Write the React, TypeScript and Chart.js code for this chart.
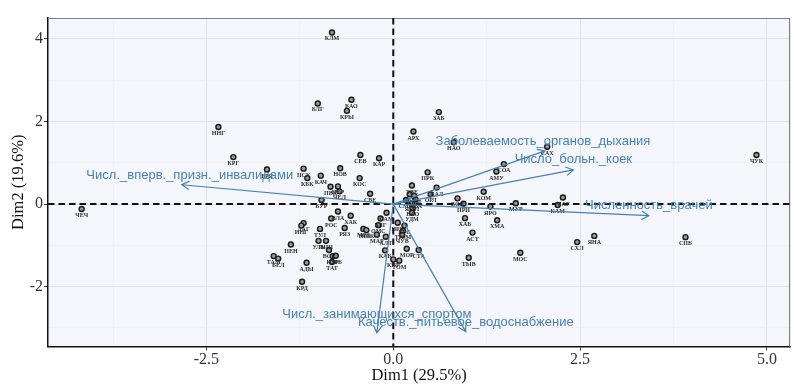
import { useEffect, useRef } from "react";
import { Chart, registerables } from "chart.js";

Chart.register(...registerables);

// ---------- data ----------
const regionCodes = [
  "КЛМ", "БЛГ", "БАО", "КРЫ", "ННГ", "АРХ", "КРГ", "СЕВ", "КАР", "ЗАБ",
  "НАО", "БРЯ", "ПСК", "КБК", "КАЧ", "НОВ", "КОС", "ПВК", "ПЕР", "ЧЕЛ",
  "БУР", "СВЕ", "ВЛА", "РОС", "ХАК", "РЯЗ", "ДАГ", "ИНГ", "ТУЛ", "УЛЬ",
  "ЛИП", "ПЕН", "ВОР", "КУР", "ОРБ", "ТАТ", "АДЫ", "ТАМ", "БЕЛ", "КРД",
  "МРД", "НИЖ", "ОМС", "МАР", "САМ", "ВЛГ", "АЛТ", "КАБ", "КИР", "ТОМ",
  "МОР", "СТА", "ИРК", "КРС", "ТЮМ", "ЧУВ", "ПРК", "ТВЕ", "КАЛ", "ОРЛ",
  "ЛЕН", "КЕМ", "СМО", "ИВА", "ЯМЛ", "ЕАО", "УДМ", "СОА", "АМУ", "КОМ",
  "ВОЛ", "ПРИ", "ЯРО", "МУР", "ХАБ", "ХМА", "АСТ", "ТЫВ", "МОС", "МАГ",
  "КАМ", "САХ", "СХЛ", "ЯНА", "СПБ", "ЧУК", "ЧЕЧ",
];

const dim1Scores = [
  -0.82, -1.01, -0.56, -0.62, -2.34, 0.27, -2.14, -0.44, -0.19, 0.61,
  0.81, -1.69, -1.20, -1.15, -0.97, -0.71, -0.45, -0.84, -0.74, -0.72,
  -0.96, -0.31, -0.74, -0.83, -0.57, -0.65, -1.20, -1.23, -0.98, -1.00,
  -0.90, -1.37, -0.86, -0.81, -0.77, -0.82, -1.16, -1.60, -1.54, -1.22,
  -0.40, -0.36, -0.20, -0.22, -0.09, -0.17, -0.10, -0.11, 0.00, 0.08,
  0.18, 0.34, 0.06, 0.15, 0.13, 0.12, 0.46, 0.25, 0.58, 0.50,
  0.22, 0.28, 0.17, 0.30, 0.25, 0.26, 0.25, 1.48, 1.38, 1.21,
  0.86, 0.94, 1.30, 1.64, 0.96, 1.39, 1.06, 1.01, 1.70, 2.27,
  2.20, 2.06, 2.46, 2.69, 3.91, 4.86, -4.17,
];

const dim2Scores = [
  4.16, 2.44, 2.53, 2.26, 1.87, 1.76, 1.14, 1.19, 1.11, 2.23,
  1.50, 0.84, 0.86, 0.63, 0.69, 0.87, 0.63, 0.42, 0.43, 0.31,
  0.10, 0.25, -0.18, -0.35, -0.28, -0.58, -0.46, -0.52, -0.60, -0.89,
  -0.89, -0.98, -1.11, -1.26, -1.25, -1.40, -1.42, -1.26, -1.32, -1.88,
  -0.60, -0.63, -0.51, -0.74, -0.21, -0.35, -0.79, -1.12, -1.34, -1.37,
  -1.08, -1.11, -0.45, -0.52, -0.65, -0.75, 0.77, 0.45, 0.40, 0.24,
  0.24, 0.20, 0.10, 0.11, 0.02, -0.10, -0.21, 0.97, 0.79, 0.30,
  0.14, 0.01, -0.06, 0.02, -0.34, -0.39, -0.69, -1.30, -1.18, 0.16,
  -0.02, 1.39, -0.92, -0.77, -0.80, 1.19, -0.12,
];

const variableNames = [
  "Числ._вперв._призн._инвалидами",
  "Заболеваемость_органов_дыхания",
  "Число_больн._коек",
  "Численность_врачей",
  "Числ._занимающихся_спортом",
  "Качеств._питьевое_водоснабжение",
];
const variableDim1 = [-2.83, 2.03, 2.41, 3.42, -0.22, 0.97];
const variableDim2 = [0.47, 1.29, 0.83, -0.28, -3.12, -3.09];

const xTickValues = [-2.5, 0, 2.5, 5];
const xTickLabels = ["-2.5", "0.0", "2.5", "5.0"];
const xMinorValues = [-3.75, -1.25, 1.25, 3.75];
const yTickValues = [-2, 0, 2, 4];
const yTickLabels = ["-2", "0", "2", "4"];
const yMinorValues = [-3, -1, 1, 3];

const xTitle = "Dim1 (29.5%)";
const yTitle = "Dim2 (19.6%)";

// ---------- styling ----------
const STEEL = "#4682b4";
const labelNudges: [number, number][] = [
  [8, -9.5],
  [-2, -9],
  [0, -10],
  [0, -10.5],
  [0, -18.5],
  [0, -9.5],
];

const biplotPlugin = {
  id: "biplot",
  beforeDraw(chart: any) {
    const { ctx, chartArea: a } = chart;
    ctx.save();
    ctx.fillStyle = "#f5f6fb";
    ctx.fillRect(a.left, a.top, a.right - a.left, a.bottom - a.top);
    ctx.restore();
  },
  beforeDatasetsDraw(chart: any) {
    const { ctx, chartArea: a, scales } = chart;
    const x0 = scales.x.getPixelForValue(0);
    const y0 = scales.y.getPixelForValue(0);
    ctx.save();
    ctx.strokeStyle = "#808080";
    ctx.lineWidth = 1.2;
    ctx.beginPath();
    ctx.moveTo(a.left, a.top + 0.5);
    ctx.lineTo(a.right - 0.5, a.top + 0.5);
    ctx.lineTo(a.right - 0.5, a.bottom);
    ctx.stroke();
    ctx.setLineDash([6.5, 4]);
    ctx.strokeStyle = "#111";
    ctx.lineWidth = 2;
    ctx.beginPath();
    ctx.moveTo(a.left, y0);
    ctx.lineTo(a.right, y0);
    ctx.moveTo(x0, a.top);
    ctx.lineTo(x0, a.bottom);
    ctx.stroke();
    ctx.restore();
  },
  afterDatasetsDraw(chart: any) {
    const { ctx, scales } = chart;
    const meta = chart.getDatasetMeta(0);
    ctx.save();
    ctx.font = 'bold 6px "Liberation Serif", "DejaVu Serif", serif';
    ctx.fillStyle = "#2a2a2a";
    ctx.textAlign = "center";
    ctx.textBaseline = "middle";
    meta.data.forEach((pt: any, i: number) => {
      ctx.fillText(regionCodes[i], pt.x, pt.y + 6.5);
    });

    const ox = scales.x.getPixelForValue(0);
    const oy = scales.y.getPixelForValue(0);
    ctx.strokeStyle = STEEL;
    ctx.fillStyle = STEEL;
    ctx.lineWidth = 1.2;
    ctx.lineCap = "round";
    ctx.font = '13px "Liberation Sans", Arial, sans-serif';
    variableNames.forEach((name, i) => {
      const tx = scales.x.getPixelForValue(variableDim1[i]);
      const ty = scales.y.getPixelForValue(variableDim2[i]);
      const ang = Math.atan2(ty - oy, tx - ox);
      const len = 8;
      const spread = Math.PI / 6;
      ctx.beginPath();
      ctx.moveTo(ox, oy);
      ctx.lineTo(tx, ty);
      ctx.moveTo(tx - len * Math.cos(ang - spread), ty - len * Math.sin(ang - spread));
      ctx.lineTo(tx, ty);
      ctx.lineTo(tx - len * Math.cos(ang + spread), ty - len * Math.sin(ang + spread));
      ctx.stroke();
      const [dx, dy] = labelNudges[i];
      ctx.fillText(name, tx + dx, ty + dy);
    });
    ctx.restore();
  },
};

const serif = '"Liberation Serif", "Times New Roman", serif';

function makeScale(
  minor: number[],
  major: number[],
  labels: string[],
  min: number,
  max: number,
  title: string,
  isX: boolean
) {
  const isMajor = (v: number) => major.some((m) => Math.abs(m - v) < 1e-9);
  return {
    type: "linear",
    min,
    max,
    afterBuildTicks: (scale: any) => {
      scale.ticks = [...minor, ...major]
        .sort((a, b) => a - b)
        .map((v) => ({ value: v }));
    },
    afterFit: (scale: any) => {
      if (isX) scale.height = 37.5;
      else scale.width = 48;
      scale.paddingLeft = 0;
      scale.paddingRight = 0;
      scale.paddingTop = 0;
      scale.paddingBottom = 0;
    },
    ticks: {
      autoSkip: false,
      maxRotation: 0,
      minRotation: 0,
      padding: 1,
      color: "#333",
      font: { family: serif, size: 16, lineHeight: 1 },
      callback: (value: number) => {
        const i = major.findIndex((m) => Math.abs(m - value) < 1e-9);
        return i >= 0 ? labels[i] : "";
      },
    },
    grid: {
      drawTicks: true,
      tickLength: 4,
      tickWidth: 1,
      color: (c: any) => (c.tick && isMajor(c.tick.value) ? "#e2e3e8" : "#eceef2"),
      lineWidth: (c: any) => (c.tick && isMajor(c.tick.value) ? 1.1 : 0.6),
      tickColor: (c: any) =>
        c.tick && isMajor(c.tick.value) ? "#333" : "rgba(0,0,0,0)",
    },
    border: { display: true, color: "#111", width: 1.5 },
    title: {
      display: true,
      text: title,
      color: "#111",
      font: { family: serif, size: 16.5, lineHeight: 1 },
      padding: isX ? { top: 0, bottom: 0 } : { top: 10, bottom: 0 },
    },
  };
}

export default function App() {
  const canvasRef = useRef<HTMLCanvasElement | null>(null);

  useEffect(() => {
    const canvas = canvasRef.current;
    if (!canvas) return;
    const points = dim1Scores.map((x, i) => ({ x, y: dim2Scores[i] }));
    const chart = new Chart(canvas, {
      type: "scatter",
      data: {
        datasets: [
          {
            label: "regions",
            data: points,
            pointRadius: 2.5,
            pointBorderWidth: 1.4,
            pointBackgroundColor: "#9a9a9a",
            pointBorderColor: "#1a1a1a",
            pointHoverRadius: 2.5,
          },
        ],
      },
      options: {
        animation: false,
        responsive: false,
        maintainAspectRatio: false,
        devicePixelRatio: 1,
        layout: { padding: { left: 0, top: 18, right: 1, bottom: 0 } },
        plugins: {
          legend: { display: false },
          tooltip: { enabled: false },
        },
        events: [],
        scales: {
          x: makeScale(xMinorValues, xTickValues, xTickLabels, -4.62, 5.31, xTitle, true),
          y: makeScale(yMinorValues, yTickValues, yTickLabels, -3.45, 4.51, yTitle, false),
        } as any,
      },
      plugins: [biplotPlugin],
    });
    return () => chart.destroy();
  }, []);

  return (
    <div
      style={{
        position: "fixed",
        left: 0,
        top: 0,
        width: 794,
        height: 384,
        background: "#ffffff",
      }}
    >
      <canvas
        ref={canvasRef}
        width={794}
        height={384}
        style={{ display: "block", width: 794, height: 384 }}
      />
    </div>
  );
}
